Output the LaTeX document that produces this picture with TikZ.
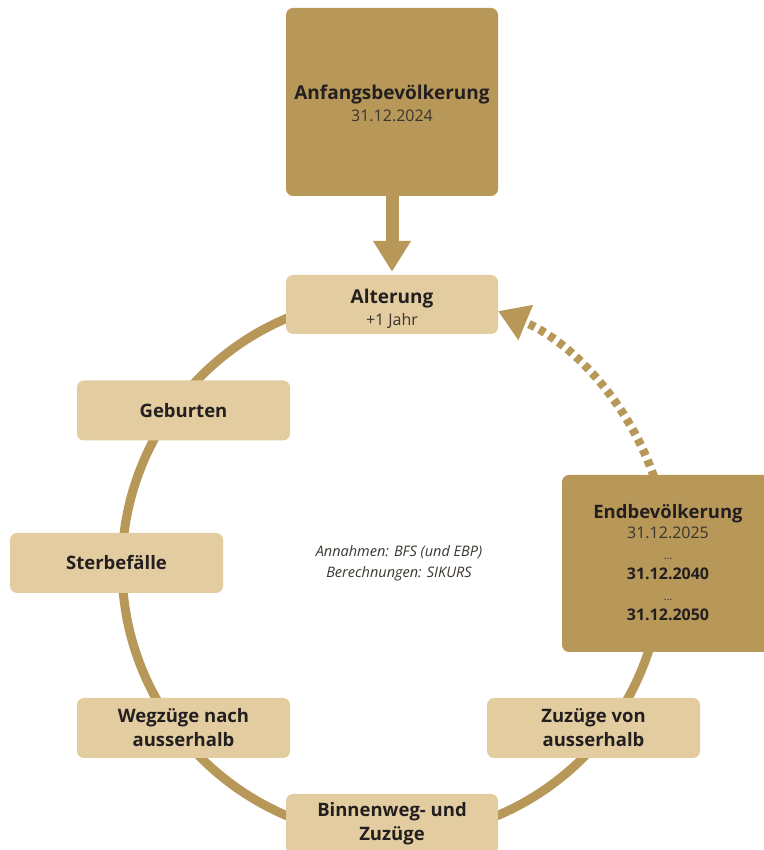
\documentclass[tikz,border=0pt]{standalone}
\usepackage{fontspec}
\setmainfont{Open Sans}
\usetikzlibrary{arrows.meta}
\definecolor{gold}{HTML}{B89858}
\definecolor{tanbox}{HTML}{E3CDA0}
\definecolor{ink}{HTML}{231F20}
\definecolor{subink}{HTML}{3A352E}
\begin{document}
\begin{tikzpicture}[x=1pt,y=1pt,
  box/.style={rectangle, rounded corners=7pt, inner sep=0pt, align=center, text=ink},
  darkbox/.style={box, fill=gold, minimum width=212pt},
  lightbox/.style={box, fill=tanbox, minimum width=213pt, minimum height=60pt,
    font=\fontsize{18.5}{24}\selectfont\bfseries},
  ring/.style={draw=gold, line width=9pt},
  flow/.style={draw=gold, line width=13pt, -{Triangle[length=31pt,width=36pt]}, shorten >=3pt},
  loopback/.style={draw=gold, line width=8.5pt, dash pattern=on 6.5pt off 5pt, -{Triangle[length=30pt,width=36pt]}},
  note/.style={align=center, text=subink, font=\fontsize{14.5}{21}\selectfont\itshape}
 ]
\useasboundingbox (0,0) rectangle (763,850);
\coordinate (ctr) at (392,283);
% ring (open on the upper right, where the dashed arrow runs)
\draw[ring] ([shift={(95:270)}]ctr) arc[start angle=95, end angle=370, radius=270];
% dashed loop back arrow
\draw[loopback] ([shift={(19:277)}]ctr) arc[start angle=19, end angle=67.5, radius=277];
% boxes
\node[darkbox, minimum height=188pt, font=\fontsize{16}{22}\selectfont] (anf) at (392,748)
  {\raisebox{-8pt}[0pt][0pt]{\begin{tabular}{@{}c@{}}
   {\fontsize{19}{22}\selectfont\bfseries Anfangsbevölkerung}\\
   \color{subink}31.12.2024
   \end{tabular}}};
\node[box, fill=tanbox, minimum width=212pt, minimum height=59pt, font=\fontsize{16}{21.5}\selectfont] (alt) at (392,545.5)
  {\raisebox{-10pt}[0pt][0pt]{\begin{tabular}{@{}c@{}}
   {\fontsize{19}{22}\selectfont\bfseries Alterung}\\
   \color{subink}+1 Jahr
   \end{tabular}}};
\node[lightbox] (geb) at (183.5,439.5) {Geburten};
\node[lightbox] (ster) at (116.5,287) {Sterbefälle};
\node[lightbox] (weg) at (183.5,122) {Wegzüge nach\\ausserhalb};
\node[lightbox, minimum width=212pt] (binn) at (392,26) {Binnenweg- und\\Zuzüge};
\node[lightbox] (zuz) at (593.5,122) {Zuzüge von\\ausserhalb};
\node[darkbox, minimum height=177pt, font=\fontsize{16}{20.5}\selectfont] (end) at (668,286.5)
  {\raisebox{-6pt}[0pt][0pt]{\begin{tabular}{@{}c@{}}
   {\fontsize{18.5}{22}\selectfont\bfseries Endbevölkerung}\\
   \color{subink}31.12.2025\\
   {\fontsize{11}{13}\selectfont\color{subink}...}\\
   \bfseries 31.12.2040\\
   {\fontsize{11}{13}\selectfont\color{subink}...}\\
   \bfseries 31.12.2050
   \end{tabular}}};
\node[note] (txt) at (399,287) {Annahmen: BFS (und EBP)\\Berechnungen: SIKURS};
% arrow from start population to ageing
\draw[flow] (anf.south) -- (alt.north);
\end{tikzpicture}
\end{document}
